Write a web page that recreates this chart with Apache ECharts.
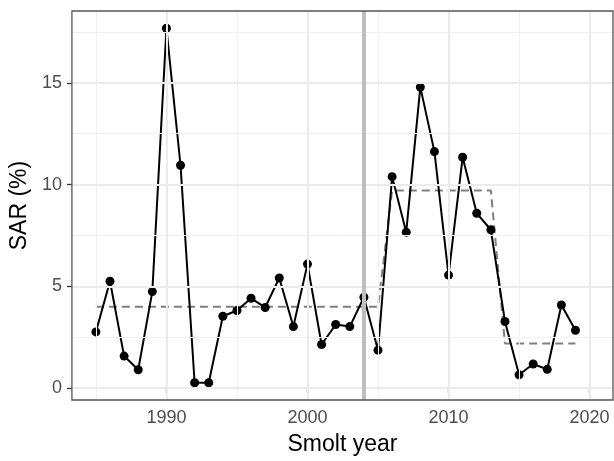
<!DOCTYPE html>
<html>
<head>
<meta charset="utf-8">
<script src="https://cdn.jsdelivr.net/npm/echarts@6/dist/echarts.min.js"></script>
<style>
  html, body { margin: 0; padding: 0; background: #ffffff; }
  #chart { width: 614px; height: 461px; }
</style>
</head>
<body>
<div id="chart"></div>
<script>
// Smolt-to-adult return rate by smolt year
const years = [1985, 1986, 1987, 1988, 1989, 1990, 1991, 1992, 1993, 1994, 1995, 1996,
  1997, 1998, 1999, 2000, 2001, 2002, 2003, 2004, 2005, 2006, 2007, 2008, 2009, 2010,
  2011, 2012, 2013, 2014, 2015, 2016, 2017, 2018, 2019];
const sar = [2.76, 5.25, 1.57, 0.90, 4.74, 17.68, 10.95, 0.26, 0.26, 3.53, 3.81, 4.41,
  3.96, 5.41, 3.02, 6.09, 2.14, 3.12, 3.02, 4.46, 1.86, 10.39, 7.66, 14.79, 11.62, 5.55,
  11.34, 8.59, 7.78, 3.27, 0.65, 1.18, 0.92, 4.08, 2.84];
// period level for each smolt year (dashed line)
const periodLevel = [3.99, 3.99, 3.99, 3.99, 3.99, 3.99, 3.99, 3.99, 3.99, 3.99, 3.99, 3.99,
  3.99, 3.99, 3.99, 3.99, 3.99, 3.99, 3.99, 3.99, 3.99, 9.71, 9.71, 9.71, 9.71, 9.71,
  9.71, 9.71, 9.71, 2.19, 2.19, 2.19, 2.19, 2.19, 2.19];
const breakYear = 2004;

const xMajor = [1990, 2000, 2010, 2020];
const xMinor = [1985, 1995, 2005, 2015];
const yMajor = [0, 5, 10, 15];
const yMinor = [2.5, 7.5, 12.5, 17.5];

const font = 'Liberation Sans, Arial, sans-serif';
const gridMajor = { color: '#ebebeb', width: 2, type: 'solid' };
const gridMinor = { color: '#f0f0f0', width: 1, type: 'solid' };

const gridLines = []
  .concat(xMinor.map(v => ({ xAxis: v, lineStyle: gridMinor })))
  .concat(yMinor.map(v => ({ yAxis: v, lineStyle: gridMinor })))
  .concat(xMajor.map(v => ({ xAxis: v, lineStyle: gridMajor })))
  .concat(yMajor.map(v => ({ yAxis: v, lineStyle: gridMajor })));

const chart = echarts.init(document.getElementById('chart'), null, { renderer: 'canvas' });
chart.setOption({
  animation: false,
  backgroundColor: '#ffffff',
  grid: {
    left: 71, right: 1, top: 11, bottom: 60,
    show: true, borderColor: '#555555', borderWidth: 1.3, backgroundColor: 'transparent', z: 10
  },
  xAxis: {
    type: 'value',
    min: 1983.3, max: 2021.66,
    name: 'Smolt year', nameLocation: 'middle', nameGap: 33,
    nameTextStyle: { fontFamily: font, fontSize: 23, color: '#000000' },
    axisLine: { show: false },
    splitLine: { show: false },
    axisTick: { show: true, customValues: xMajor, length: 5, lineStyle: { color: '#333333', width: 1.3 } },
    axisLabel: {
      customValues: xMajor, margin: 9, fontFamily: font, fontSize: 18, color: '#4d4d4d',
      formatter: v => String(v)
    }
  },
  yAxis: {
    type: 'value',
    min: -0.588, max: 18.53,
    name: 'SAR (%)', nameLocation: 'middle', nameGap: 34, nameRotate: 90,
    nameTextStyle: { fontFamily: font, fontSize: 23, color: '#000000' },
    axisLine: { show: false },
    splitLine: { show: false },
    axisTick: { show: true, customValues: yMajor, length: 5, lineStyle: { color: '#333333', width: 1.3 } },
    axisLabel: {
      customValues: yMajor, margin: 10, fontFamily: font, fontSize: 18, color: '#4d4d4d',
      formatter: v => String(v)
    }
  },
  series: [
    {
      name: 'grid',
      type: 'line',
      data: [],
      silent: true,
      z: 1,
      markLine: { silent: true, symbol: 'none', label: { show: false }, animation: false, data: gridLines }
    },
    {
      name: 'break',
      type: 'line',
      data: [],
      silent: true,
      z: 2,
      markLine: {
        silent: true, symbol: 'none', label: { show: false }, animation: false,
        lineStyle: { color: '#bebebe', width: 4, type: 'solid' },
        data: [{ xAxis: breakYear }]
      }
    },
    {
      name: 'period level',
      type: 'line',
      data: years.map((y, i) => [y, periodLevel[i]]),
      showSymbol: false,
      symbol: 'none',
      z: 3,
      lineStyle: { color: '#7f7f7f', width: 2, type: [8, 5] }
    },
    {
      name: 'SAR',
      type: 'line',
      data: years.map((y, i) => [y, sar[i]]),
      symbol: 'circle',
      symbolSize: 9,
      z: 4,
      itemStyle: { color: '#000000' },
      lineStyle: { color: '#000000', width: 2 }
    }
  ]
});
</script>
</body>
</html>
